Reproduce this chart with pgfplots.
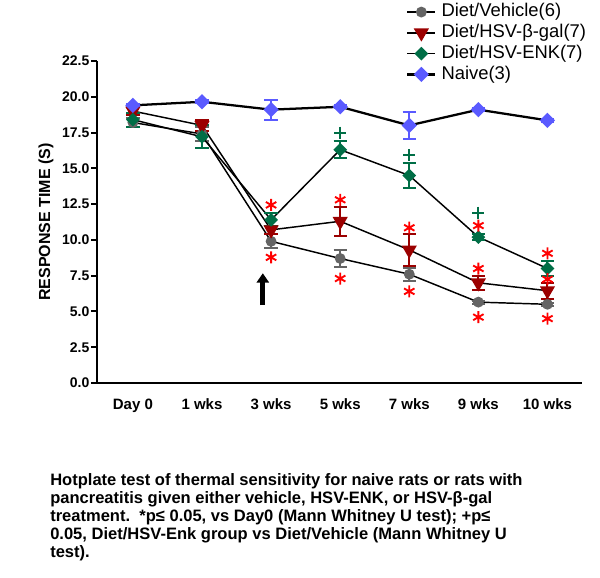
\documentclass[border=0pt]{standalone}
\usepackage{pgfplots}
\pgfplotsset{compat=1.18}
\usepackage{fontspec}
\setmainfont{Liberation Sans}
\usetikzlibrary{arrows.meta}
\definecolor{cgrey}{RGB}{100,100,100}
\definecolor{cred}{RGB}{155,0,0}
\definecolor{cgreen}{RGB}{0,110,70}
\definecolor{cblue}{RGB}{90,90,255}
\definecolor{cstar}{RGB}{255,0,0}
\begin{document}
\begin{tikzpicture}
\useasboundingbox (0,0) rectangle (450pt,433.5pt);
\begin{axis}[
  at={(72.75pt,146.25pt)}, anchor=south west,
  scale only axis, width=363.75pt, height=241.5pt,
  xmin=-0.52, xmax=6.5, ymin=0, ymax=22.5,
  axis x line=bottom, axis y line=left,
  axis line style={-, line width=1.5pt},
  xtick={0,1,2,3,4,5,6},
  xticklabels={Day 0,1 wks,3 wks,5 wks,7 wks,9 wks,10 wks},
  x tick style={draw=none},
  ytick={0,2.5,...,22.5},
  y tick style={line width=1.5pt, black},
  tick align=outside, major tick length=4.5pt,
  /pgf/number format/assume math mode=true,
  yticklabel={\pgfmathprintnumber[fixed,fixed zerofill,precision=1]{\tick}},
  yticklabel style={font=\bfseries\fontsize{10.5}{12}\selectfont, inner xsep=1pt},
  xticklabel style={font=\bfseries\fontsize{11.25}{13}\selectfont, yshift=-4pt},
  ylabel={RESPONSE TIME (S)},
  ylabel style={font=\bfseries\fontsize{12}{14}\selectfont, at={(axis description cs:-0.105,0.5)}, anchor=center},
  legend style={at={(0.6288,1.188)}, anchor=north west, draw=none, fill=none,
    font=\fontsize{13.8}{15}\selectfont, row sep=2.6pt, column sep=3.75pt,
    nodes={inner sep=0pt, text height=10pt, text depth=3pt}},
  legend cell align=left,
  legend image code/.code={
    \draw[mark repeat=2,mark phase=2,#1] plot coordinates {(0pt,0pt) (10.5pt,0pt) (21pt,0pt)};
  },
  error bars/y dir=both, error bars/y explicit,
]
% Diet/Vehicle
\addplot[draw=black, line width=1.1pt, mark=*, mark size=3.5pt,
  mark options={draw=cgrey, fill=cgrey, solid},
  error bars/error bar style={draw=cgrey, line width=1.5pt},
  error bars/error mark options={rotate=90, mark size=5pt, line width=1.5pt, draw=cgrey}]
coordinates {
(0,18.2) +- (0,0.3)
(1,17.4) +- (0,0.5)
(2,9.9) +- (0,0.5)
(3,8.7) +- (0,0.6)
(4,7.6) +- (0,0.45)
(5,5.65) +- (0,0.1)
(6,5.5) +- (0,0.1)
};
\addlegendentry{Diet/Vehicle(6)}
% Diet/HSV-beta-gal
\addplot[draw=black, line width=1.1pt, mark=triangle*, mark size=5.5pt,
  mark options={draw=cred, fill=cred, solid, rotate=180},
  error bars/error bar style={draw=cred, line width=1.5pt},
  error bars/error mark options={rotate=90, mark size=5pt, line width=1.5pt, draw=cred}]
coordinates {
(0,19.0) +- (0,0.3)
(1,18.0) +- (0,0.4)
(2,10.7) +- (0,0.3)
(3,11.3) +- (0,1.0)
(4,9.3) +- (0,1.1)
(5,7.0) +- (0,0.5)
(6,6.45) +- (0,0.55)
};
\addlegendentry{Diet/HSV-β-gal(7)}
% Diet/HSV-ENK
\addplot[draw=black, line width=1.1pt, mark=square*, mark size=3.1pt,
  mark options={draw=cgreen, fill=cgreen, solid, rotate=45},
  error bars/error bar style={draw=cgreen, line width=1.5pt},
  error bars/error mark options={rotate=90, mark size=5pt, line width=1.5pt, draw=cgreen}]
coordinates {
(0,18.4) +- (0,0.5)
(1,17.2) +- (0,0.8)
(2,11.4) +- (0,0.45)
(3,16.3) +- (0,0.6)
(4,14.5) +- (0,0.9)
(5,10.2) +- (0,0.2)
(6,8.0) +- (0,0.5)
};
\addlegendentry{Diet/HSV-ENK(7)}
% Naive
\addplot[draw=black, line width=1.7pt, mark=square*, mark size=3.2pt,
  mark options={draw=cblue, fill=cblue, solid, rotate=45},
  error bars/error bar style={draw=cblue, line width=1.5pt},
  error bars/error mark options={rotate=90, mark size=5pt, line width=1.5pt, draw=cblue}]
coordinates {
(0,19.4) +- (0,0.1)
(1,19.65) +- (0,0.1)
(2,19.1) +- (0,0.7)
(3,19.3) +- (0,0.1)
(4,18.0) +- (0,0.95)
(5,19.1) +- (0,0.1)
(6,18.35) +- (0,0.1)
};
\addlegendentry{Naive(3)}
% significance markers
\addplot[forget plot, only marks, mark=asterisk, mark size=4.5pt, draw=cstar, line width=1.4pt, error bars/y dir=none]
coordinates {
(2,12.44) (2,8.78)
(3,12.8) (3,7.3)
(4,10.85) (4,6.4)
(5,11.0) (5,8.0) (5,4.6)
(6,9.06) (6,7.25) (6,4.5)
};
\addplot[forget plot, only marks, mark=+, mark size=4.5pt, draw=cgreen, line width=1.5pt, error bars/y dir=none]
coordinates {
(3,17.5) (4,15.9) (5,11.9)
};
\draw[line width=3.75pt, -{Triangle[width=9pt,length=7pt]}] (axis cs:1.88,5.45) -- (axis cs:1.88,7.67);
\end{axis}
\node[anchor=north west, align=left, inner sep=0pt, font=\bfseries\fontsize{12.4}{13.5}\selectfont]
  at (37.5pt,78.5pt)
  {Hotplate test of thermal sensitivity for naive rats or rats with\\
   pancreatitis given either vehicle, HSV-ENK, or HSV-β-gal\\
   treatment.\ \ *p≤ 0.05, vs Day0 (Mann Whitney U test); +p≤\\
   0.05, Diet/HSV-Enk group vs Diet/Vehicle (Mann Whitney U\\
   test).};
\end{tikzpicture}
\end{document}
